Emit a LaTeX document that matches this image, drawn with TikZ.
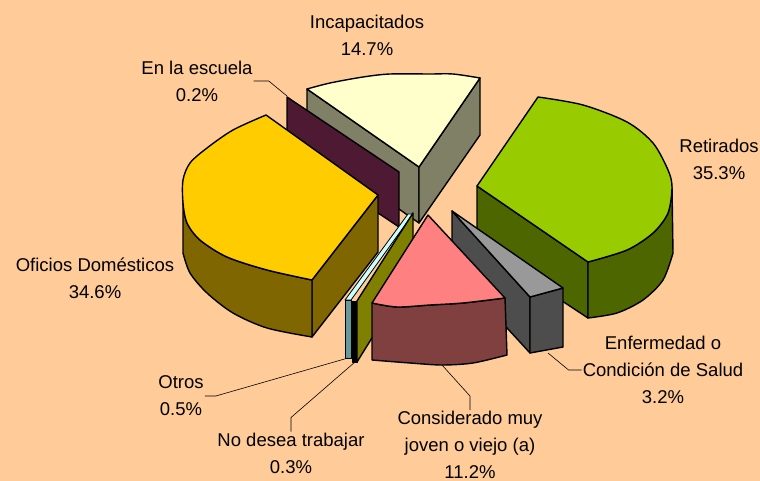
\documentclass[tikz,border=0pt]{standalone}
\usepackage{fontspec}
\setmainfont{Liberation Sans}
\usepackage{tikz}
\definecolor{bgpeach}{RGB}{255,204,153}
\definecolor{inctop}{RGB}{255,255,204}
\definecolor{incside}{RGB}{128,128,102}
\definecolor{esccol}{RGB}{77,25,51}
\definecolor{ofitop}{RGB}{255,204,0}
\definecolor{ofiside}{RGB}{128,102,0}
\definecolor{rettop}{RGB}{153,204,0}
\definecolor{retside}{RGB}{77,102,0}
\definecolor{enftop}{RGB}{153,153,153}
\definecolor{enfside}{RGB}{77,77,77}
\definecolor{contop}{RGB}{255,128,128}
\definecolor{conside}{RGB}{128,64,64}
\definecolor{nodside}{RGB}{128,128,0}
\definecolor{otrtop}{RGB}{204,255,255}
\definecolor{otrside}{RGB}{102,153,153}

\begin{document}
\begin{tikzpicture}[x=1pt,y=-1pt,
        slice/.style={draw=black, line width=1.4pt, line join=round},
        thinslice/.style={draw=black, line width=0.8pt, line join=round},
        lbl/.style={align=center, inner sep=1pt, font=\fontsize{18.5}{27}\selectfont},
        leader/.style={draw=black, line width=0.6pt}]
    \fill[bgpeach] (0,0) rectangle (760,481);
    \useasboundingbox (0,0) rectangle (760,481);

    % Incapacitados
    \filldraw[slice, fill=incside] (307,89) -- (419,167) -- (419,223) -- (307,145) -- cycle;
    \filldraw[slice, fill=incside] (419,167) -- (480,78) -- (480,135) -- (419,223) -- cycle;
    \filldraw[slice, fill=inctop] plot[smooth] coordinates {(307,89) (330,83) (363,77) (390,74) (430,74) (453,74) (480,78)} -- (419,167) -- cycle;

    % Retirados
    \filldraw[slice, fill=retside] (477,186) -- (588,262) -- (588,318) -- (477,245) -- cycle;
    \filldraw[slice, fill=retside] plot[smooth] coordinates {(588,262) (627,250) (653,233) (668,213) (672,187)} -- (673,253)
        -- plot[smooth] coordinates {(673,253) (663,280) (643,300) (617,313) (588,318)} -- cycle;
    \filldraw[slice, fill=rettop] plot[smooth] coordinates {(538,97) (583,105) (627,122) (653,143) (668,170) (672,187) (668,213) (653,233) (627,250) (588,262)} -- (477,186) -- cycle;

    % En la escuela
    \filldraw[slice, fill=esccol] (287,97) -- (399,172) -- (399,227) -- (287,152) -- cycle;

    % Oficios Domesticos
    \filldraw[slice, fill=ofiside] (378,195) -- (378,252) -- (312,337) -- (312,280) -- cycle;
    \filldraw[slice, fill=ofiside] plot[smooth] coordinates {(312,280) (267,270) (227,257) (200,240) (187,223) (183,203)} -- (183,253)
        -- plot[smooth] coordinates {(183,253) (190,273) (207,293) (233,313) (267,328) (312,337)} -- cycle;
    \filldraw[slice, fill=ofitop] plot[smooth] coordinates {(312,280) (267,270) (227,257) (200,240) (187,223) (183,203) (183,180) (190,163) (207,148) (233,130) (266,115)} -- (378,195) -- cycle;

    % Otros, No desea trabajar
    \filldraw[thinslice, fill=otrtop] (345,300) -- (408,214) -- (413,214) -- (351,300) -- cycle;
    \filldraw[thinslice, fill=otrside] (345,300) -- (351,300) -- (351,358) -- (345,358) -- cycle;
    \filldraw[thinslice, fill=black] (352,301) -- (357,301) -- (357,362) -- (352,362) -- cycle;
    \filldraw[slice, fill=nodside] (357,301) -- (413,213) -- (413,272) -- (357,362) -- cycle;

    % Enfermedad
    \filldraw[slice, fill=enfside] (452,211) -- (530,297) -- (530,353) -- (452,268) -- cycle;
    \filldraw[slice, fill=enfside] (530,297) -- (563,288) -- (563,347) -- (530,353) -- cycle;
    \filldraw[slice, fill=enftop] (452,211) -- (563,288) -- (530,297) -- cycle;

    % Considerado
    \filldraw[slice, fill=conside] plot[smooth] coordinates {(372,303) (397,307) (430,305) (463,303) (505,298)} -- (507,355)
        -- plot[smooth] coordinates {(507,355) (473,363) (442,365) (410,363) (372,360)} -- cycle;
    \filldraw[slice, fill=contop] plot[smooth] coordinates {(372,303) (397,307) (430,305) (463,303) (505,298)} -- (428,215) -- cycle;

    \coordinate (escpt) at (287,96);
    \coordinate (otrpt) at (348,358);
    \coordinate (nodpt) at (355,362);
    \coordinate (conpt) at (442,365);
    \coordinate (enfpt) at (548,353);

    \node[lbl] (inclbl) at (367,35) {Incapacitados\\14.7\%};
    \node[lbl] (esclbl) at (197,81) {En la escuela\\0.2\%};
    \node[lbl] (retlbl) at (719,159) {Retirados\\35.3\%};
    \node[lbl] (ofilbl) at (95,278) {Oficios Domésticos\\34.6\%};
    \node[lbl] (enflbl) at (663,370) {Enfermedad o\\Condición de Salud\\3.2\%};
    \node[lbl] (conlbl) at (470,445) {Considerado muy\\joven o viejo (a)\\11.2\%};
    \node[lbl] (otrlbl) at (181,396) {Otros\\0.5\%};
    \node[lbl] (nodlbl) at (291,453) {No desea trabajar\\0.3\%};

    \draw[leader] (escpt) -- ([xshift=15pt]esclbl.east) -- (esclbl.east);
    \draw[leader] (otrpt) -- ([xshift=11pt]otrlbl.east) -- (otrlbl.east);
    \draw[leader] (nodpt) -- ([yshift=14pt]nodlbl.north) -- (nodlbl.north);
    \draw[leader] (conpt) -- ([yshift=14pt]conlbl.north) -- (conlbl.north);
    \draw[leader] (enfpt) -- ([xshift=-13pt]enflbl.west) -- (enflbl.west);
\end{tikzpicture}
\end{document}
